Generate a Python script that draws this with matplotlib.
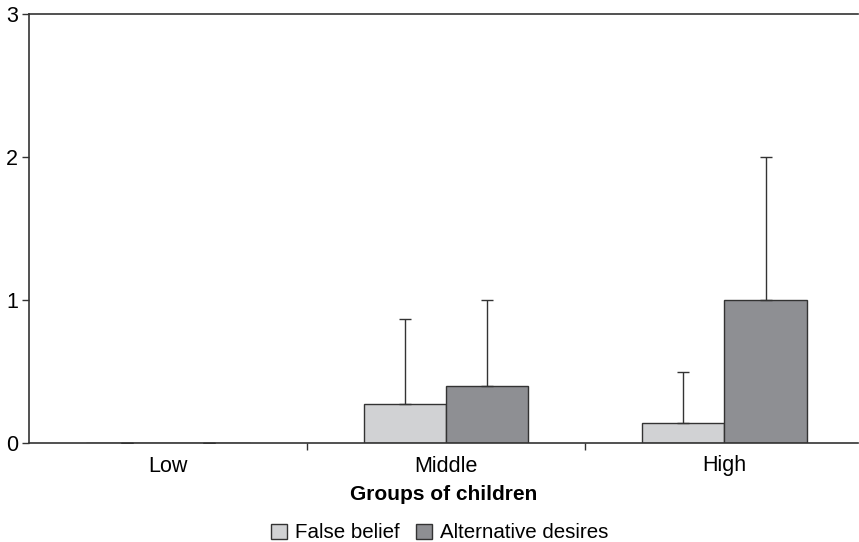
import numpy as np
import matplotlib.pyplot as plt

plt.rcParams['font.family'] = ['Liberation Sans', 'DejaVu Sans']

groups = ['Low', 'Middle', 'High']
false_belief = [0.0, 0.27, 0.14]
false_belief_err = [0.0, 0.60, 0.36]
alt_desires = [0.0, 0.40, 1.00]
alt_desires_err = [0.0, 0.60, 1.00]

light = '#d1d2d4'
dark = '#8e8f93'
edge = '#333333'

fig = plt.figure(figsize=(8.59, 5.42), dpi=100)
ax = fig.add_axes([29 / 859, 99 / 542, 829 / 859, 429 / 542])

x = np.arange(len(groups))
w = 0.295

ax.bar(x - w / 2, false_belief, w, color=light, edgecolor=edge, linewidth=1.0,
       label='False belief', zorder=2)
ax.bar(x + w / 2, alt_desires, w, color=dark, edgecolor=edge, linewidth=1.0,
       label='Alternative desires', zorder=2)

ax.errorbar(x - w / 2, false_belief, yerr=[np.zeros(3), false_belief_err],
            fmt='none', ecolor=edge, elinewidth=1.0, capsize=4, capthick=1.0, zorder=3)
ax.errorbar(x + w / 2, alt_desires, yerr=[np.zeros(3), alt_desires_err],
            fmt='none', ecolor=edge, elinewidth=1.0, capsize=4, capthick=1.0, zorder=3)

ax.set_xlim(-0.5, 2.48)
ax.set_ylim(0, 3)
ax.set_yticks([0, 1, 2, 3])
ax.set_xticks(x)
ax.set_xticklabels(groups)
ax.set_xticks([0.5, 1.5], minor=True)
ax.tick_params(axis='x', which='major', length=0, labelsize=15.5, pad=9)
ax.tick_params(axis='x', which='minor', length=5, width=1, color=edge, direction='out')
ax.tick_params(axis='y', length=5, width=1, color=edge, labelsize=15.5, pad=3)

for s in ['left', 'bottom', 'top']:
    ax.spines[s].set_color(edge)
    ax.spines[s].set_linewidth(1.2)
ax.spines['right'].set_visible(False)

ax.set_xlabel('Groups of children', fontsize=15, fontweight='bold', labelpad=6)

fig.legend(loc='lower center', bbox_to_anchor=(0.512, -0.035), ncol=2, frameon=False,
           fontsize=14.8, handlelength=0.75, handleheight=0.75, handletextpad=0.4,
           columnspacing=0.8)

fig.savefig('out.png', dpi=100)
